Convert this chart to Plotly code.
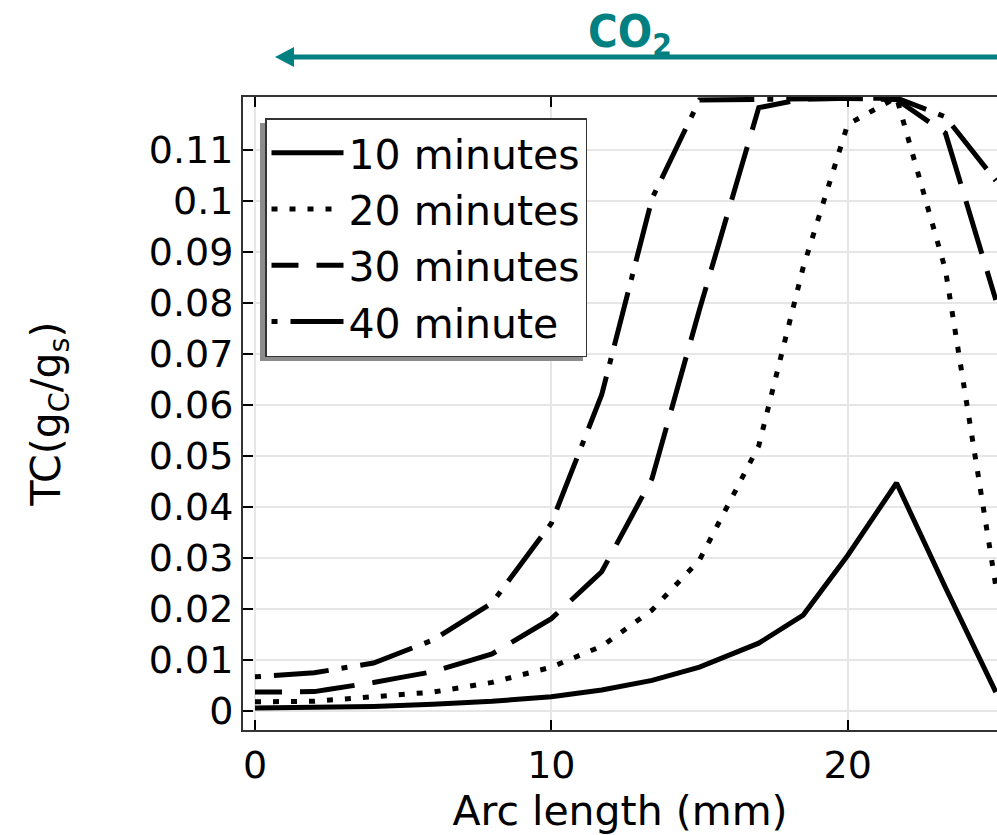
import plotly.graph_objects as go

# ---- data ----
arc_mm = [0, 2, 4, 6, 8, 10, 11.7, 13.4, 15.0, 17.0, 18.5, 20.0, 21.65, 23.3, 25.0]
tc_10 = [0.0006, 0.0007, 0.0009, 0.0013, 0.0019, 0.0028, 0.0041, 0.0060, 0.0086, 0.0133, 0.0188, 0.0305, 0.0447, 0.0242, 0.0037]
tc_20 = [0.0018, 0.0019, 0.0028, 0.0037, 0.0056, 0.0086, 0.0127, 0.0198, 0.0296, 0.0520, 0.0870, 0.1150, 0.1203, 0.0865, 0.0245]
tc_30 = [0.0037, 0.0038, 0.0056, 0.0077, 0.0112, 0.0181, 0.0273, 0.0456, 0.0787, 0.1183, 0.1200, 0.1201, 0.1199, 0.1133, 0.0806]
tc_40 = [0.0067, 0.0075, 0.0094, 0.0139, 0.0212, 0.0368, 0.0620, 0.1005, 0.1198, 0.1200, 0.1200, 0.1201, 0.1202, 0.1165, 0.1040]
series_names = ["10 minutes", "20 minutes", "30 minutes", "40 minute"]
x_ticks = [0, 10, 20]
y_ticks = [0, 0.01, 0.02, 0.03, 0.04, 0.05, 0.06, 0.07, 0.08, 0.09, 0.1, 0.11]
y_tick_text = ["0", "0.01", "0.02", "0.03", "0.04", "0.05", "0.06", "0.07", "0.08", "0.09", "0.1", "0.11"]

series = [tc_10, tc_20, tc_30, tc_40]
dashes = ["solid", "6px,12px", "27px,18px,28px,0px", "6px,13px,55px,13px"]

FONT = "DejaVu Sans"
TEAL = "#008080"
fig = go.Figure()
for name, ys, d in zip(series_names, series, dashes):
    fig.add_trace(go.Scatter(x=arc_mm, y=ys, name=name, mode="lines",
                             line=dict(color="black", width=5, dash=d)))

W, H = 997, 835
ml, mr, mt, mb = 243, 0, 97, 105
pw = W - ml - mr
ph = H - mt - mb


def px(x):
    return (x - ml) / pw


def py(y):
    return (H - mb - y) / ph


fig.update_layout(
    width=W, height=H,
    margin=dict(l=ml, r=mr, t=mt, b=mb, pad=0),
    paper_bgcolor="white", plot_bgcolor="white",
    font=dict(family=FONT, color="black", size=38),
    showlegend=True,
    legend=dict(x=px(265), y=py(118), xanchor="left", yanchor="top",
                bgcolor="white", bordercolor="#333333", borderwidth=1.5,
                font=dict(family=FONT, size=41, color="black"),
                tracegroupgap=0, itemwidth=72),
    xaxis=dict(range=[-0.405, 25.04], tickvals=x_ticks, ticks="inside", ticklen=10,
               tickwidth=1.5, tickcolor="black", showline=True, linecolor="#333333",
               linewidth=2, mirror="ticks", showgrid=True, gridcolor="#e6e6e6", gridwidth=2,
               zeroline=False, tickfont=dict(size=38),
               title=dict(text="Arc length (mm)", font=dict(size=41), standoff=4)),
    yaxis=dict(range=[-0.00373, 0.12039], tickvals=y_ticks, ticktext=y_tick_text,
               ticks="inside", ticklen=10,
               tickwidth=1.5, tickcolor="black", showline=True, linecolor="#333333",
               linewidth=2, mirror=False, showgrid=True, gridcolor="#e6e6e6", gridwidth=2,
               zeroline=False, tickfont=dict(size=38),
               title=dict(text="TC(g<sub>C</sub>/g<sub>s</sub>)", font=dict(size=41), standoff=75)),
)

# legend drop shadow (offset left/down)
fig.add_shape(type="rect", xref="paper", yref="paper",
              x0=px(260), x1=px(583), y0=py(123), y1=py(361),
              fillcolor="#8c8c8c", line=dict(width=0), layer="above")

# CO2 arrow above the plot
fig.add_shape(type="line", xref="paper", yref="paper",
              x0=px(290), x1=px(1005), y0=py(57), y1=py(57),
              line=dict(color=TEAL, width=5))
fig.add_shape(type="path", xref="paper", yref="paper",
              path=f"M {px(275)},{py(57)} L {px(294)},{py(47)} L {px(294)},{py(67)} Z",
              fillcolor=TEAL, line=dict(width=0))
fig.add_annotation(x=px(630), y=py(34), xref="paper", yref="paper",
                   xanchor="center", yanchor="middle",
                   text="<b>CO<sub>2</sub></b>", showarrow=False,
                   font=dict(family="Liberation Sans Narrow, DejaVu Sans Condensed, sans-serif",
                             size=45, color=TEAL))

fig.write_html("out.html")
